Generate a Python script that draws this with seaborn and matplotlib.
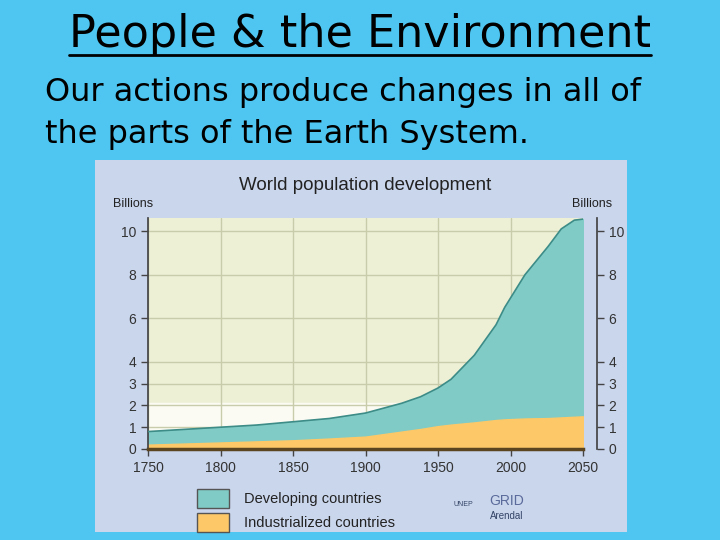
import matplotlib.pyplot as plt
import seaborn as sns
from matplotlib.patches import Patch, Rectangle
import pandas as pd

# world population in billions
years = [1750, 1775, 1800, 1825, 1850, 1875, 1900, 1925, 1938, 1950, 1959,
         1975, 1990, 1996, 2010, 2026, 2035, 2044, 2050]
total = [0.8, 0.9, 1.0, 1.1, 1.25, 1.4, 1.65, 2.1, 2.4, 2.8, 3.2,
         4.3, 5.7, 6.5, 8.0, 9.3, 10.1, 10.5, 10.55]
industrialized = [0.2, 0.25, 0.3, 0.35, 0.4, 0.48, 0.57, 0.8, 0.92, 1.05, 1.12,
                  1.22, 1.33, 1.36, 1.4, 1.42, 1.45, 1.48, 1.5]

x_ticks = [1750, 1800, 1850, 1900, 1950, 2000, 2050]
y_ticks = [0, 1, 2, 3, 4, 6, 8, 10]
legend_labels = ["Developing countries", "Industrialized countries"]

df = pd.DataFrame({"year": years, "total": total, "industrialized": industrialized})

sns.set_theme(style="white")
plt.rcParams["font.family"] = ["Liberation Sans", "DejaVu Sans"]

teal = "#80cbc6"
orange = "#fdc867"
slide_bg = "#4ec6f1"
chart_bg = "#cad6ec"

fig = plt.figure(figsize=(7.2, 5.4), dpi=100)
fig.patch.set_facecolor(slide_bg)

# the pasted chart picture
fig.add_artist(Rectangle((95 / 720, 1 - 532 / 540), 532 / 720, 372 / 540,
                         transform=fig.transFigure, facecolor=chart_bg,
                         edgecolor="none", zorder=0))

# slide heading and text
title = fig.text(0.5, 1 - 35 / 540, "People & the Environment", ha="center",
                 va="center", fontsize=32, family=["DejaVu Sans"], color="black")
fig.text(45 / 720, 1 - 92 / 540, "Our actions produce changes in all of",
         ha="left", va="center", fontsize=23, family=["DejaVu Sans"], color="black")
fig.text(45 / 720, 1 - 135 / 540, "the parts of the Earth System.",
         ha="left", va="center", fontsize=23, family=["DejaVu Sans"], color="black")

ax = fig.add_axes([148 / 720, 1 - 449 / 540, 435 / 720, 231 / 540])
ax.set_facecolor("#eef0d6")
ax.axhspan(0, 2.1, color="#fbfbf3", zorder=0)

ax.fill_between(df["year"], df["industrialized"], df["total"], color=teal, zorder=2)
ax.fill_between(df["year"], 0, df["industrialized"], color=orange, zorder=2)
sns.lineplot(data=df, x="year", y="total", ax=ax, color="#3d8c88", lw=1.2, zorder=3)

ax.set_xlim(1750, 2050)
ax.set_ylim(0, 10.6)
ax.set_xticks(x_ticks)
ax.set_yticks(y_ticks)
ax.grid(True, color="#c9ccaa", lw=1)
ax.set_axisbelow(True)
for a in ax.get_xgridlines() + ax.get_ygridlines():
    a.set_zorder(1)
ax.set_xlabel("")
ax.set_ylabel("")
for s in ["top", "right"]:
    ax.spines[s].set_visible(False)
ax.spines["left"].set_color("#444444")
ax.spines["bottom"].set_color("#5a4520")
ax.spines["bottom"].set_linewidth(2.5)
ax.tick_params(axis="both", length=5, width=1, color="#444444", labelsize=10,
               labelcolor="#333333", left=True, bottom=True)

ax2 = ax.twinx()
ax2.set_ylim(0, 10.6)
ax2.set_yticks(y_ticks)
ax2.spines["right"].set_position(("outward", 10))
ax2.spines["right"].set_color("#444444")
for s in ["top", "left", "bottom"]:
    ax2.spines[s].set_visible(False)
ax2.tick_params(axis="y", length=5, width=1, color="#444444", labelsize=10,
                labelcolor="#333333", right=True)
ax2.grid(False)

fig.text(365 / 720, 1 - 185 / 540, "World population development", ha="center",
         va="center", fontsize=13.5, color="#222222")
fig.text(113 / 720, 1 - 204 / 540, "Billions", ha="left", va="center",
         fontsize=9, color="#222222")
fig.text(572 / 720, 1 - 204 / 540, "Billions", ha="left", va="center",
         fontsize=9, color="#222222")

handles = [Patch(facecolor=teal, edgecolor="#555555"),
           Patch(facecolor=orange, edgecolor="#555555")]
fig.legend(handles, legend_labels, loc="upper left",
           bbox_to_anchor=(184 / 720, 1 - 476 / 540), frameon=False,
           fontsize=10.5, handlelength=2.2, handleheight=1.6,
           labelspacing=0.35, handletextpad=1.0, labelcolor="#222222")

fig.text(463 / 720, 1 - 506 / 540, "UNEP", fontsize=5, color="#334466", ha="center")
fig.text(507 / 720, 1 - 505 / 540, "GRID", fontsize=10, color="#5a6a9a", ha="center")
fig.text(507 / 720, 1 - 519 / 540, "Arendal", fontsize=7, color="#334466", ha="center")

# underline the slide heading
fig.canvas.draw()
bb = title.get_window_extent().transformed(fig.transFigure.inverted())
fig.add_artist(plt.Line2D([bb.x0, bb.x1], [bb.y0 + 0.002, bb.y0 + 0.002],
                          transform=fig.transFigure, color="black", lw=2))

fig.savefig("out.png", dpi=100, facecolor=fig.get_facecolor())
